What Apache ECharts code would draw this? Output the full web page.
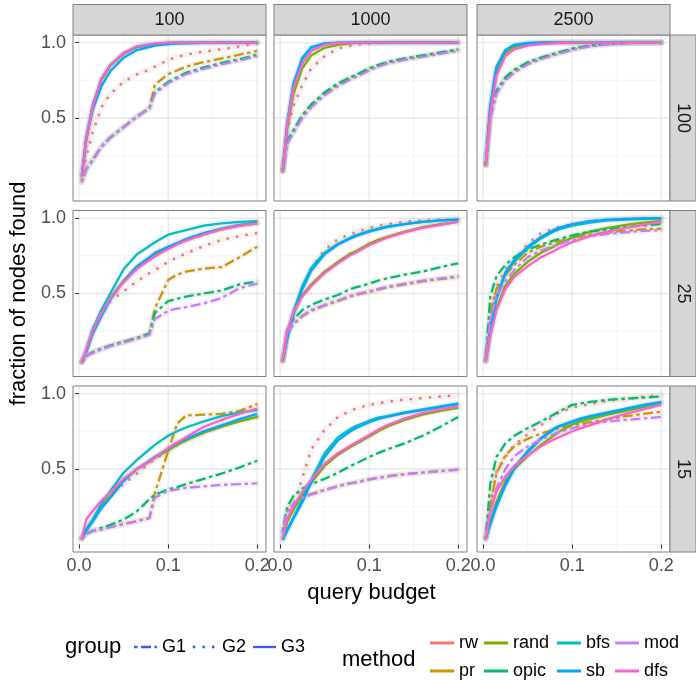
<!DOCTYPE html>
<html>
<head>
<meta charset="utf-8">
<script src="https://cdn.jsdelivr.net/npm/echarts@6/dist/echarts.min.js"></script>
<style>
  html, body { margin: 0; padding: 0; background: #ffffff; }
  #chart { width: 696px; height: 681px; }
</style>
</head>
<body>
<div id="chart"></div>
<script>
// query budget (fraction of the graph queried)
const budget = [0.003, 0.008, 0.015, 0.025, 0.035, 0.05, 0.065, 0.079, 0.085, 0.1, 0.11, 0.12, 0.14, 0.16, 0.18, 0.2];

const methods = ['rw', 'pr', 'rand', 'opic', 'bfs', 'sb', 'mod', 'dfs'];
const methodColors = ['#F8766D', '#CD9600', '#7CAE00', '#00BE67', '#00BFC4', '#00A9FF', '#C77CFF', '#FF61CC'];
const methodGroups = ['G2', 'G1', 'G3', 'G1', 'G3', 'G3', 'G1', 'G3'];
const groups = ['G1', 'G2', 'G3'];

const colLabels = ['100', '1000', '2500'];
const rowLabels = ['100', '25', '15'];
const xBreaks = [0, 0.1, 0.2];
const xMinor = [0.05, 0.15];
const yBreaks = [0.5, 1.0];
const yMinor = [0, 0.25, 0.75];

// fraction of nodes found, one array per panel (row label, column label)
const p_100_100 = {
  rw:   [0.09,0.24,0.40,0.57,0.66,0.74,0.79,0.82,0.84,0.885,0.905,0.92,0.94,0.955,0.975,0.995],
  pr:   [0.075,0.16,0.22,0.31,0.37,0.44,0.51,0.565,0.72,0.79,0.815,0.84,0.87,0.895,0.92,0.945],
  rand: [0.11,0.35,0.56,0.75,0.845,0.925,0.97,0.985,0.99,0.998,1,1,1,1,1,1],
  opic: [0.075,0.16,0.22,0.31,0.37,0.44,0.51,0.565,0.67,0.74,0.77,0.80,0.835,0.865,0.89,0.92],
  bfs:  [0.12,0.37,0.58,0.76,0.85,0.93,0.97,0.985,0.99,0.997,1,1,1,1,1,1],
  sb:   [0.12,0.36,0.55,0.71,0.81,0.90,0.95,0.97,0.98,0.99,0.993,0.995,0.998,1,1,1],
  mod:  [0.075,0.16,0.22,0.31,0.37,0.44,0.51,0.565,0.66,0.73,0.76,0.79,0.825,0.855,0.88,0.91],
  dfs:  [0.11,0.36,0.57,0.76,0.85,0.93,0.975,0.99,0.995,1,1,1,1,1,1,1]
};
const p_100_1000 = {
  rw:   [0.15,0.42,0.58,0.72,0.83,0.91,0.96,0.978,0.985,0.993,0.996,0.998,1,1,1,1],
  pr:   [0.15,0.34,0.41,0.51,0.58,0.66,0.72,0.765,0.78,0.825,0.845,0.865,0.89,0.91,0.93,0.95],
  rand: [0.15,0.43,0.66,0.83,0.915,0.965,0.985,0.995,1,1,1,1,1,1,1,1],
  opic: [0.15,0.35,0.42,0.52,0.59,0.67,0.73,0.77,0.785,0.83,0.85,0.87,0.895,0.915,0.935,0.955],
  bfs:  [0.15,0.46,0.72,0.89,0.965,0.993,1,1,1,1,1,1,1,1,1,1],
  sb:   [0.15,0.47,0.73,0.90,0.97,0.995,1,1,1,1,1,1,1,1,1,1],
  mod:  [0.15,0.33,0.40,0.50,0.57,0.65,0.71,0.755,0.77,0.815,0.84,0.86,0.885,0.905,0.925,0.945],
  dfs:  [0.15,0.45,0.70,0.86,0.945,0.985,0.997,1,1,1,1,1,1,1,1,1]
};
const p_100_2500 = {
  rw:   [0.19,0.56,0.82,0.935,0.975,0.993,1,1,1,1,1,1,1,1,1,1],
  pr:   [0.19,0.51,0.67,0.76,0.81,0.862,0.895,0.92,0.93,0.955,0.968,0.978,0.99,0.996,1,1],
  rand: [0.19,0.55,0.81,0.93,0.97,0.99,0.997,1,1,1,1,1,1,1,1,1],
  opic: [0.19,0.52,0.68,0.77,0.82,0.87,0.90,0.925,0.935,0.96,0.97,0.98,0.99,0.997,1,1],
  bfs:  [0.19,0.57,0.83,0.945,0.98,0.995,1,1,1,1,1,1,1,1,1,1],
  sb:   [0.19,0.58,0.84,0.95,0.985,0.997,1,1,1,1,1,1,1,1,1,1],
  mod:  [0.19,0.49,0.66,0.75,0.80,0.855,0.89,0.915,0.925,0.95,0.963,0.975,0.988,0.995,1,1],
  dfs:  [0.19,0.53,0.78,0.91,0.955,0.98,0.99,0.995,0.997,1,1,1,1,1,1,1]
};
const p_25_100 = {
  rw:   [0.046,0.12,0.24,0.36,0.45,0.515,0.58,0.635,0.655,0.71,0.74,0.765,0.815,0.855,0.88,0.90],
  pr:   [0.046,0.085,0.11,0.135,0.155,0.18,0.205,0.235,0.40,0.59,0.625,0.645,0.665,0.675,0.74,0.81],
  rand: [0.046,0.12,0.24,0.36,0.47,0.585,0.68,0.735,0.76,0.805,0.83,0.855,0.895,0.925,0.95,0.965],
  opic: [0.046,0.085,0.11,0.135,0.155,0.18,0.205,0.235,0.37,0.45,0.465,0.48,0.50,0.52,0.56,0.58],
  bfs:  [0.046,0.12,0.26,0.39,0.50,0.66,0.76,0.815,0.84,0.89,0.905,0.92,0.95,0.965,0.975,0.98],
  sb:   [0.046,0.11,0.23,0.35,0.46,0.58,0.68,0.74,0.77,0.81,0.835,0.86,0.90,0.93,0.955,0.97],
  mod:  [0.046,0.09,0.105,0.13,0.15,0.175,0.20,0.225,0.33,0.385,0.40,0.41,0.435,0.47,0.535,0.565],
  dfs:  [0.046,0.13,0.25,0.37,0.47,0.575,0.665,0.72,0.745,0.795,0.825,0.85,0.89,0.925,0.95,0.965]
};
const p_25_1000 = {
  rw:   [0.055,0.23,0.36,0.53,0.665,0.79,0.86,0.895,0.905,0.935,0.948,0.96,0.975,0.985,0.99,0.993],
  pr:   [0.055,0.235,0.295,0.35,0.385,0.42,0.45,0.48,0.49,0.51,0.525,0.54,0.56,0.58,0.595,0.61],
  rand: [0.055,0.22,0.37,0.49,0.56,0.645,0.71,0.765,0.78,0.83,0.855,0.875,0.91,0.94,0.96,0.975],
  opic: [0.055,0.26,0.33,0.39,0.425,0.46,0.49,0.53,0.54,0.565,0.585,0.60,0.625,0.645,0.675,0.70],
  bfs:  [0.055,0.21,0.38,0.55,0.67,0.77,0.83,0.87,0.885,0.915,0.93,0.945,0.96,0.975,0.985,0.99],
  sb:   [0.055,0.20,0.36,0.53,0.65,0.76,0.825,0.865,0.88,0.91,0.925,0.94,0.96,0.975,0.985,0.99],
  mod:  [0.055,0.24,0.30,0.355,0.39,0.425,0.455,0.485,0.495,0.515,0.53,0.545,0.565,0.585,0.60,0.615],
  dfs:  [0.055,0.25,0.38,0.48,0.55,0.635,0.70,0.755,0.77,0.82,0.845,0.87,0.905,0.935,0.955,0.975]
};
const p_25_2500 = {
  rw:   [0.055,0.32,0.54,0.66,0.72,0.83,0.90,0.93,0.94,0.96,0.97,0.98,0.99,0.995,1,1],
  pr:   [0.055,0.38,0.53,0.62,0.69,0.77,0.81,0.835,0.845,0.87,0.88,0.89,0.905,0.915,0.925,0.93],
  rand: [0.055,0.22,0.40,0.55,0.63,0.71,0.77,0.81,0.83,0.87,0.89,0.91,0.935,0.955,0.97,0.98],
  opic: [0.055,0.48,0.615,0.69,0.74,0.79,0.825,0.85,0.86,0.885,0.898,0.91,0.925,0.94,0.95,0.96],
  bfs:  [0.055,0.26,0.46,0.63,0.71,0.80,0.865,0.91,0.925,0.95,0.96,0.97,0.985,0.99,0.995,0.997],
  sb:   [0.055,0.27,0.47,0.64,0.72,0.81,0.875,0.92,0.935,0.96,0.97,0.98,0.99,0.995,0.998,1],
  mod:  [0.055,0.33,0.48,0.58,0.655,0.74,0.785,0.815,0.825,0.855,0.868,0.88,0.895,0.905,0.915,0.92],
  dfs:  [0.055,0.22,0.39,0.53,0.61,0.68,0.74,0.78,0.80,0.84,0.86,0.88,0.91,0.935,0.955,0.975]
};
const p_15_100 = {
  rw:   [0.04,0.10,0.16,0.26,0.33,0.40,0.47,0.54,0.565,0.62,0.655,0.69,0.74,0.785,0.82,0.845],
  pr:   [0.04,0.07,0.09,0.10,0.115,0.135,0.155,0.175,0.34,0.62,0.80,0.855,0.86,0.865,0.885,0.93],
  rand: [0.04,0.10,0.16,0.25,0.32,0.43,0.50,0.55,0.575,0.625,0.66,0.69,0.74,0.78,0.815,0.845],
  opic: [0.04,0.07,0.09,0.11,0.13,0.165,0.22,0.30,0.33,0.365,0.38,0.40,0.435,0.47,0.51,0.555],
  bfs:  [0.04,0.10,0.16,0.27,0.355,0.475,0.56,0.63,0.66,0.72,0.75,0.775,0.815,0.85,0.875,0.89],
  sb:   [0.04,0.09,0.15,0.24,0.31,0.42,0.50,0.555,0.58,0.635,0.67,0.70,0.75,0.79,0.83,0.865],
  mod:  [0.04,0.07,0.09,0.10,0.115,0.135,0.155,0.175,0.31,0.355,0.365,0.375,0.385,0.395,0.40,0.405],
  dfs:  [0.04,0.165,0.22,0.29,0.345,0.435,0.50,0.55,0.575,0.64,0.675,0.71,0.78,0.825,0.865,0.90]
};
const p_15_1000 = {
  rw:   [0.045,0.20,0.26,0.44,0.63,0.76,0.845,0.885,0.90,0.925,0.935,0.945,0.96,0.97,0.98,0.99],
  pr:   [0.08,0.22,0.27,0.31,0.335,0.362,0.387,0.407,0.412,0.432,0.442,0.452,0.467,0.477,0.487,0.497],
  rand: [0.04,0.15,0.23,0.33,0.41,0.52,0.595,0.645,0.665,0.715,0.75,0.78,0.825,0.86,0.885,0.905],
  opic: [0.09,0.25,0.32,0.37,0.40,0.435,0.475,0.52,0.535,0.58,0.605,0.63,0.67,0.72,0.78,0.845],
  bfs:  [0.03,0.10,0.18,0.30,0.43,0.605,0.71,0.765,0.785,0.82,0.84,0.85,0.875,0.895,0.915,0.935],
  sb:   [0.03,0.09,0.17,0.28,0.41,0.58,0.69,0.75,0.77,0.81,0.83,0.845,0.87,0.89,0.91,0.93],
  mod:  [0.08,0.22,0.27,0.31,0.33,0.36,0.385,0.405,0.41,0.43,0.44,0.45,0.465,0.475,0.485,0.495],
  dfs:  [0.04,0.17,0.25,0.35,0.43,0.535,0.605,0.655,0.675,0.725,0.76,0.79,0.835,0.87,0.895,0.915]
};
const p_15_2500 = {
  rw:   [0.04,0.25,0.48,0.58,0.66,0.73,0.79,0.85,0.875,0.905,0.92,0.93,0.952,0.965,0.978,0.99],
  pr:   [0.04,0.26,0.47,0.59,0.65,0.70,0.735,0.76,0.77,0.79,0.80,0.81,0.83,0.85,0.865,0.88],
  rand: [0.04,0.15,0.28,0.42,0.50,0.585,0.66,0.72,0.745,0.795,0.815,0.83,0.86,0.885,0.91,0.935],
  opic: [0.04,0.40,0.58,0.67,0.72,0.77,0.815,0.86,0.88,0.925,0.935,0.945,0.958,0.966,0.973,0.98],
  bfs:  [0.04,0.13,0.25,0.39,0.50,0.61,0.70,0.76,0.78,0.81,0.83,0.845,0.87,0.895,0.92,0.94],
  sb:   [0.04,0.14,0.26,0.40,0.51,0.62,0.705,0.765,0.785,0.815,0.835,0.85,0.875,0.90,0.925,0.945],
  mod:  [0.04,0.20,0.37,0.50,0.585,0.65,0.695,0.73,0.745,0.77,0.785,0.80,0.815,0.825,0.835,0.845],
  dfs:  [0.04,0.22,0.35,0.45,0.52,0.59,0.65,0.695,0.71,0.75,0.77,0.79,0.83,0.865,0.895,0.925]
};

const panels = [
  [p_100_100, p_100_1000, p_100_2500],
  [p_25_100,  p_25_1000,  p_25_2500],
  [p_15_100,  p_15_1000,  p_15_2500]
];

// ---- layout ----
const FONT = '"Liberation Sans", Arial, Helvetica, sans-serif';
const colLeft = [73, 274, 477];
const rowTop = [35, 210.5, 386];
const panelW = 193, panelH = 166;
const stripTop = 4.5, stripH = 30.5, stripW = 26;
const groupColor = '#3d5cf5';

// axis limits: data range with 5% padding on each side
const xSpan = budget[budget.length - 1] - budget[0];
const XLIM = [budget[0] - 0.05 * xSpan, budget[budget.length - 1] + 0.05 * xSpan];
const YLIM = [-0.05, 1.05];

function styleFor(group, color) {
  if (group === 'G1') return { color, width: 2.3, type: [3.5, 3.5, 10, 3.5] };
  if (group === 'G2') return { color, width: 2.8, type: [0.1, 9.5], cap: 'round' };
  return { color, width: 2.3, type: 'solid' };
}

const grids = [], xAxes = [], yAxes = [], series = [];
for (let r = 0; r < 3; r++) {
  for (let c = 0; c < 3; c++) {
    const i = r * 3 + c;
    grids.push({ left: colLeft[c], top: rowTop[r], width: panelW, height: panelH, show: false });
    xAxes.push({
      gridIndex: i, type: 'value', min: XLIM[0], max: XLIM[1],
      axisLine: { show: false }, splitLine: { show: false },
      axisTick: { show: r === 2, customValues: xBreaks, length: 4, lineStyle: { color: '#333333', width: 1 } },
      axisLabel: { show: r === 2, customValues: xBreaks, formatter: v => v.toFixed(1),
        fontSize: 18, color: '#4d4d4d', fontFamily: FONT, margin: 5 }
    });
    yAxes.push({
      gridIndex: i, type: 'value', min: YLIM[0], max: YLIM[1],
      axisLine: { show: false }, splitLine: { show: false },
      axisTick: { show: c === 0, customValues: yBreaks, length: 4, lineStyle: { color: '#333333', width: 1 } },
      axisLabel: { show: c === 0, customValues: yBreaks, formatter: v => v.toFixed(1),
        fontSize: 18, color: '#4d4d4d', fontFamily: FONT, margin: 7 }
    });
    const panel = panels[r][c];
    // light uncertainty band under every curve
    methods.forEach((m) => {
      series.push({
        type: 'line', xAxisIndex: i, yAxisIndex: i, silent: true, showSymbol: false,
        z: 1, data: budget.map((x, k) => [x, panel[m][k]]),
        lineStyle: { color: 'rgba(170,170,170,0.13)', width: 6, cap: 'round', join: 'round' }
      });
    });
    methods.forEach((m, j) => {
      series.push({
        name: m, type: 'line', xAxisIndex: i, yAxisIndex: i, showSymbol: false,
        z: 3, data: budget.map((x, k) => [x, panel[m][k]]),
        lineStyle: styleFor(methodGroups[j], methodColors[j])
      });
    });
  }
}

const chart = echarts.init(document.getElementById('chart'), null, { renderer: 'canvas' });
chart.setOption({
  animation: false,
  backgroundColor: '#ffffff',
  grid: grids, xAxis: xAxes, yAxis: yAxes, series
});

// panel decorations: grid lines, borders, facet strips, titles, legends
const gfx = [];
for (let r = 0; r < 3; r++) {
  for (let c = 0; c < 3; c++) {
    const i = r * 3 + c;
    const x0 = colLeft[c], x1 = colLeft[c] + panelW, y0 = rowTop[r], y1 = rowTop[r] + panelH;
    const vline = (v, w, col) => {
      const px = chart.convertToPixel({ xAxisIndex: i }, v);
      gfx.push({ type: 'line', silent: true, z: 0, shape: { x1: px, y1: y0 + 0.5, x2: px, y2: y1 - 0.5 },
        style: { stroke: col, lineWidth: w } });
    };
    const hline = (v, w, col) => {
      const py = chart.convertToPixel({ yAxisIndex: i }, v);
      gfx.push({ type: 'line', silent: true, z: 0, shape: { x1: x0 + 0.5, y1: py, x2: x1 - 0.5, y2: py },
        style: { stroke: col, lineWidth: w } });
    };
    xMinor.forEach(v => vline(v, 0.7, '#f0f0f0'));
    yMinor.forEach(v => hline(v, 0.7, '#f0f0f0'));
    xBreaks.forEach(v => vline(v, 1.3, '#e8e8e8'));
    yBreaks.forEach(v => hline(v, 1.3, '#e8e8e8'));
    gfx.push({ type: 'rect', silent: true, z: 20, shape: { x: x0, y: y0, width: panelW, height: panelH },
      style: { fill: 'none', stroke: '#7f7f7f', lineWidth: 1 } });
  }
}
// column strips
colLabels.forEach((lab, c) => {
  gfx.push({ type: 'rect', silent: true, z: 20,
    shape: { x: colLeft[c], y: stripTop, width: panelW, height: stripH },
    style: { fill: '#d6d6d6', stroke: '#7f7f7f', lineWidth: 1 } });
  gfx.push({ type: 'text', silent: true, z: 21,
    style: { x: colLeft[c] + panelW / 2, y: stripTop + stripH / 2, text: lab, fontSize: 18,
      fontFamily: FONT, fill: '#1a1a1a', align: 'center', verticalAlign: 'middle' } });
});
// row strips
const stripX = colLeft[2] + panelW;
rowLabels.forEach((lab, r) => {
  gfx.push({ type: 'rect', silent: true, z: 20,
    shape: { x: stripX, y: rowTop[r], width: stripW, height: panelH },
    style: { fill: '#d6d6d6', stroke: '#7f7f7f', lineWidth: 1 } });
  gfx.push({ type: 'text', silent: true, z: 21,
    x: stripX + stripW / 2, y: rowTop[r] + panelH / 2, rotation: -Math.PI / 2,
    style: { x: 0, y: 0, text: lab, fontSize: 18, fontFamily: FONT, fill: '#1a1a1a',
      align: 'center', verticalAlign: 'middle' } });
});
// axis titles
const midX = (colLeft[0] + colLeft[2] + panelW) / 2;
const midY = (rowTop[0] + rowTop[2] + panelH) / 2;
gfx.push({ type: 'text', silent: true, z: 21, x: midX, y: 593,
  style: { x: 0, y: 0, text: 'query budget', fontSize: 22, fontFamily: FONT, fill: '#000000',
    align: 'center', verticalAlign: 'middle' } });
gfx.push({ type: 'text', silent: true, z: 21, x: 19, y: midY, rotation: Math.PI / 2,
  style: { x: 0, y: 0, text: 'fraction of nodes found', fontSize: 22, fontFamily: FONT, fill: '#000000',
    align: 'center', verticalAlign: 'middle' } });

// group legend (line type)
const groupY = 647;
gfx.push({ type: 'text', silent: true, z: 21,
  style: { x: 65, y: groupY, text: 'group', fontSize: 22, fontFamily: FONT, fill: '#000000',
    align: 'left', verticalAlign: 'middle' } });
const groupKeyX = [134, 194, 253];
groups.forEach((g, k) => {
  const st = styleFor(g, groupColor);
  gfx.push({ type: 'line', silent: true, z: 21,
    shape: { x1: groupKeyX[k], y1: groupY, x2: groupKeyX[k] + 23, y2: groupY },
    style: { stroke: groupColor, lineWidth: st.width, lineDash: st.type === 'solid' ? null : st.type,
      lineCap: st.cap || 'butt' } });
  gfx.push({ type: 'text', silent: true, z: 21,
    style: { x: groupKeyX[k] + 28, y: groupY, text: g, fontSize: 18, fontFamily: FONT, fill: '#000000',
      align: 'left', verticalAlign: 'middle' } });
});

// method legend (colour), two rows filled column by column
gfx.push({ type: 'text', silent: true, z: 21,
  style: { x: 342, y: 660, text: 'method', fontSize: 22, fontFamily: FONT, fill: '#000000',
    align: 'left', verticalAlign: 'middle' } });
const methodKeyX = [430, 484, 557, 615];
const methodRowY = [643, 671];
methods.forEach((m, j) => {
  const col = Math.floor(j / 2), row = j % 2;
  const kx = methodKeyX[col], ky = methodRowY[row];
  gfx.push({ type: 'line', silent: true, z: 21,
    shape: { x1: kx, y1: ky, x2: kx + 24, y2: ky },
    style: { stroke: methodColors[j], lineWidth: 3 } });
  gfx.push({ type: 'text', silent: true, z: 21,
    style: { x: kx + 29, y: ky, text: m, fontSize: 18, fontFamily: FONT, fill: '#000000',
      align: 'left', verticalAlign: 'middle' } });
});

chart.setOption({ graphic: { elements: gfx } });
</script>
</body>
</html>
